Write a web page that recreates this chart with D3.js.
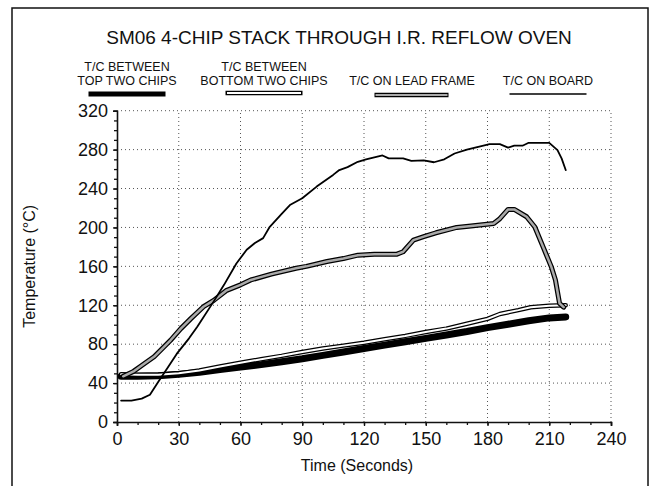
<!DOCTYPE html>
<html><head><meta charset="utf-8">
<script src="https://cdn.jsdelivr.net/npm/d3@7"></script>
<style>body{margin:0;background:#fff}svg{display:block}text{font-family:"Liberation Sans",Arial,sans-serif;fill:#111}</style>
</head><body><svg id="c" width="660" height="486"></svg>
<script>
const title = "SM06 4-CHIP STACK THROUGH I.R. REFLOW OVEN";
const xTicks = [0,30,60,90,120,150,180,210,240];
const yTicks = [0,40,80,120,160,200,240,280,320];
const seriesNames = [["T/C BETWEEN","TOP TWO CHIPS"],["T/C BETWEEN","BOTTOM TWO CHIPS"],["T/C ON LEAD FRAME"],["T/C ON BOARD"]];

const topTime = [2,10,20,30,40,50,60,70,80,90,100,110,120,130,140,150,160,170,180,190,200,210,218];
const topTemp = [47,47,47.5,49,51,54,56.5,59,62,65,68.5,72,75.5,79,82.5,86,89.5,93,97,100.5,104,107,108];

const botTime = [2,10,20,30,40,50,60,70,80,90,100,110,120,130,140,150,160,170,180,186,195,201,210,218];
const botTemp = [49,48.5,48.5,50,53,57,61,64.5,68,72,75.5,78.5,81.5,85,88.5,92.5,96,101,106,111,115,118,119.5,120];

const leadTime = [3,8,12,18,26,31,36,42,47,53,60,65,75,87,92,102,110,117,125,136,139,144,149,155,165,172,183,186,190,193,199,203,207,211,213,215,217];
const leadTemp = [47,52,58,67,84,96,106.5,118.5,125,135,141,146,152,158,160,165,168,171.5,172.5,172.5,175,187,190.5,194.5,200,201.5,204,209,218.5,218.5,211,200.5,180,159.5,146,122,118];

const boardTime = [2,7,12,16,20,25,29,35,39,47,52,58,63,67,71,74,80,84,90,97,105,108,112,117,121,129,132,139,143,149,154,159,164,170,176,181,186,190,193,197,200,210,214,216,218];
const boardTemp = [22,22,24,28,41,57,70,86,98,124,141,163,177,184,189,200,214,223,230,242,254,259,262,267.5,270,274,271,271,268.5,269,267,270,276,280,283,285.6,285.6,282,284,284,287,287,279.5,271,259];

const svg = d3.select("#c");
const x = d3.scaleLinear().domain([0,240]).range([117,611]);
const y = d3.scaleLinear().domain([0,320]).range([422,110.7]);

// frame
svg.append("rect").attr("x",12).attr("y",8).attr("width",636).attr("height",520)
  .attr("fill","none").attr("stroke","#111").attr("stroke-width",1.5);

svg.append("text").attr("x",339).attr("y",44).attr("text-anchor","middle")
  .style("font-size","19px").text(title);

// grid
const g = svg.append("g");
g.selectAll(".gx").data(xTicks.slice(1)).join("line")
  .attr("x1",d=>x(d)).attr("x2",d=>x(d)).attr("y1",y(0)).attr("y2",y(320))
  .attr("stroke","#555").attr("stroke-width",1).attr("stroke-dasharray","1,3");
g.selectAll(".gy").data(yTicks.slice(1)).join("line")
  .attr("y1",d=>y(d)).attr("y2",d=>y(d)).attr("x1",x(0)).attr("x2",x(240))
  .attr("stroke","#555").attr("stroke-width",1).attr("stroke-dasharray","1,3");

// axes
const xAxis = svg.append("g").attr("transform",`translate(0,${y(0)})`)
  .call(d3.axisBottom(x).tickValues(xTicks).tickSize(4).tickPadding(6).tickFormat(d3.format("d")));
const xMinor = svg.append("g").attr("transform",`translate(0,${y(0)})`)
  .call(d3.axisBottom(x).tickValues(d3.range(0,241,10)).tickSize(3).tickFormat(""));
const yAxis = svg.append("g").attr("transform",`translate(${x(0)},0)`)
  .call(d3.axisLeft(y).tickValues(yTicks).tickSize(4).tickPadding(5).tickFormat(d3.format("d")));
const yMinor = svg.append("g").attr("transform",`translate(${x(0)},0)`)
  .call(d3.axisLeft(y).tickValues(d3.range(0,321,10)).tickSize(3).tickFormat(""));
[xAxis,yAxis,xMinor,yMinor].forEach(a=>{
  a.select(".domain").attr("stroke","#111").attr("stroke-width",1.6);
  a.selectAll(".tick line").attr("stroke","#111").attr("stroke-width",1.3);
  a.selectAll("text").style("font-size","18px").attr("fill","#111").style("font-family","Liberation Sans, Arial, sans-serif");
});
xMinor.select(".domain").remove(); yMinor.select(".domain").remove();

svg.append("text").attr("x",357).attr("y",471).attr("text-anchor","middle")
  .style("font-size","16px").text("Time (Seconds)");
svg.append("text").attr("transform",`translate(35,${(y(0)+y(320))/2}) rotate(-90)`)
  .attr("text-anchor","middle").style("font-size","16px").text("Temperature (°C)");

const line = d3.line().x(d=>x(d[0])).y(d=>y(d[1]));
const zip = (a,b)=>a.map((t,i)=>[t,b[i]]);
const plot = svg.append("g").attr("fill","none").attr("stroke-linejoin","round").attr("stroke-linecap","round");

plot.append("path").attr("d",line(zip(topTime,topTemp))).attr("stroke","#000").attr("stroke-width",7);
plot.append("path").attr("d",line(zip(botTime,botTemp))).attr("stroke","#000").attr("stroke-width",4.5);
plot.append("path").attr("d",line(zip(botTime,botTemp))).attr("stroke","#fff").attr("stroke-width",2);
plot.append("path").attr("d",line(zip(leadTime,leadTemp))).attr("stroke","#000").attr("stroke-width",5);
plot.append("path").attr("d",line(zip(leadTime,leadTemp))).attr("stroke","#aaa").attr("stroke-width",2.5);
plot.append("path").attr("d",line(zip(boardTime,boardTemp))).attr("stroke","#000").attr("stroke-width",1.8);

// legend
const legCx = [127,264,412,548];
const leg = svg.append("g");
seriesNames.forEach((lines,i)=>{
  const base = lines.length===2 ? [71,85] : [85];
  lines.forEach((t,j)=>leg.append("text").attr("x",legCx[i]).attr("y",base[j])
    .attr("text-anchor","middle").style("font-size","12.5px").text(t));
});
const lx0 = c=>c-38.5, lx1 = c=>c+38.5;
leg.append("line").attr("x1",lx0(legCx[0])).attr("x2",lx1(legCx[0])).attr("y1",94).attr("y2",94).attr("stroke","#000").attr("stroke-width",5);
leg.append("line").attr("x1",lx0(legCx[1])).attr("x2",lx1(legCx[1])).attr("y1",93).attr("y2",93).attr("stroke","#000").attr("stroke-width",4.5);
leg.append("line").attr("x1",lx0(legCx[1])+1.5).attr("x2",lx1(legCx[1])-1.5).attr("y1",93).attr("y2",93).attr("stroke","#fff").attr("stroke-width",2);
leg.append("line").attr("x1",lx0(legCx[2])+1).attr("x2",lx1(legCx[2])-2).attr("y1",95).attr("y2",95).attr("stroke","#000").attr("stroke-width",4.5);
leg.append("line").attr("x1",lx0(legCx[2])+2).attr("x2",lx1(legCx[2])-3).attr("y1",95).attr("y2",95).attr("stroke","#aaa").attr("stroke-width",2);
leg.append("line").attr("x1",lx0(legCx[3])).attr("x2",lx1(legCx[3])).attr("y1",94).attr("y2",94).attr("stroke","#000").attr("stroke-width",1.6);
</script></body></html>
